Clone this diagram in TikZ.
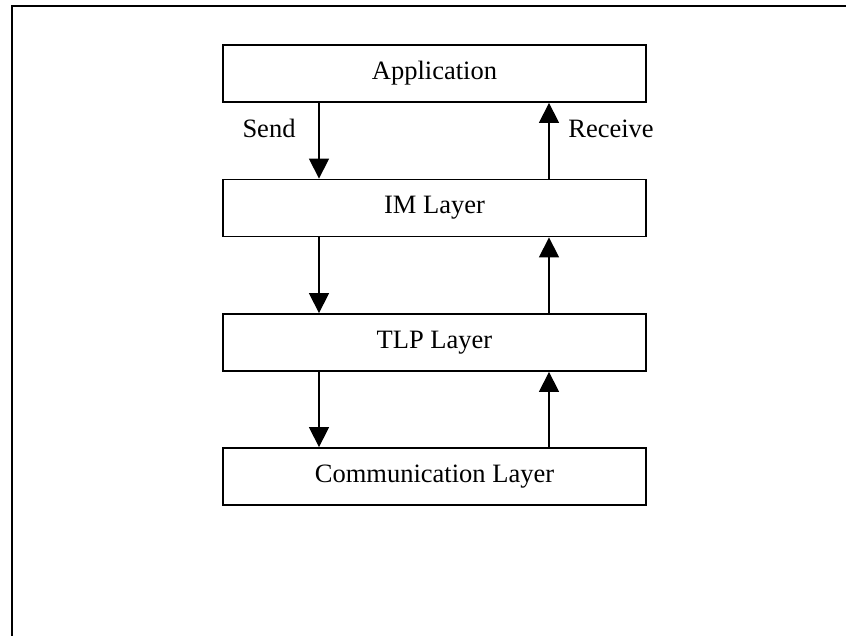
\documentclass[tikz,border=0pt]{standalone}
\usepackage{fontspec}
\setmainfont{Liberation Serif}
\usetikzlibrary{arrows.meta}
\begin{document}
\begin{tikzpicture}[x=1pt,y=-1pt,
  layerbox/.style={draw,line width=1.8pt,minimum width=423pt,minimum height=57pt,inner sep=0pt,font=\fontsize{26.5}{31}\selectfont},
  lbl/.style={anchor=base,inner sep=0pt,font=\fontsize{26.5}{31}\selectfont},
  flow/.style={line width=1.3pt,-{Triangle[length=20pt,width=20pt]}}]
\useasboundingbox (0,0) rectangle (846,635);
\draw[line width=2.5pt] (12,640) -- (12,6) -- (850,6);
\node[layerbox] (app) at (434.5,73.5) {Application};
\node[layerbox] (im) at (434.5,208) {IM Layer};
\node[layerbox] (tlp) at (434.5,342.5) {TLP Layer};
\node[layerbox] (comm) at (434.5,476.5) {Communication Layer};
\node[lbl] (send) at (269,137) {Send};
\node[lbl] (recv) at (611,137) {Receive};
\draw[flow] (app.south -| 319,0) -- (im.north -| 319,0);
\draw[flow] (im.north -| 549,0) -- (app.south -| 549,0);
\draw[flow] (im.south -| 319,0) -- (tlp.north -| 319,0);
\draw[flow] (tlp.north -| 549,0) -- (im.south -| 549,0);
\draw[flow] (tlp.south -| 319,0) -- (comm.north -| 319,0);
\draw[flow] (comm.north -| 549,0) -- (tlp.south -| 549,0);
\end{tikzpicture}
\end{document}
